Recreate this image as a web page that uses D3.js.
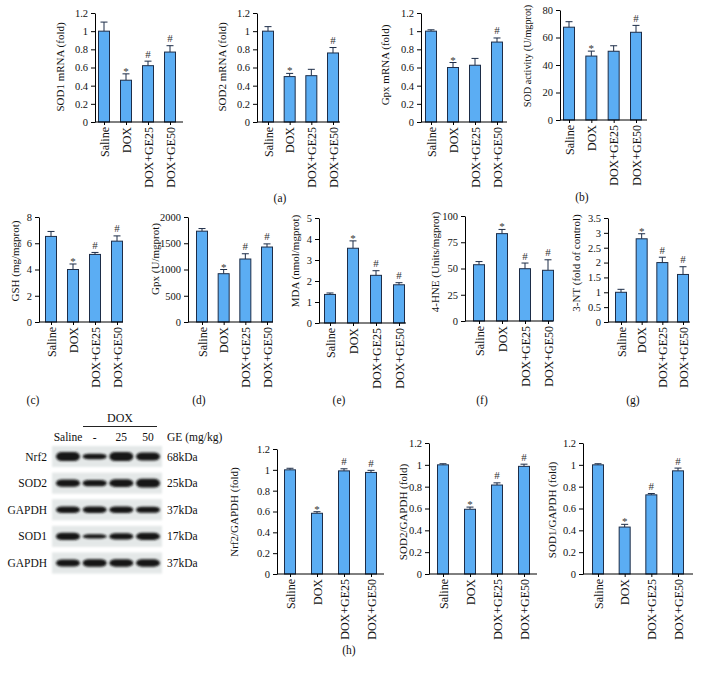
<!DOCTYPE html>
<html>
<head>
<meta charset="utf-8">
<script src="https://cdn.jsdelivr.net/npm/d3@7"></script>
<style>
body { margin: 0; background: #fff; }
svg { font-family: "Liberation Serif", "DejaVu Serif", serif; }
</style>
</head>
<body>
<div id="fig"></div>
<script>
var groups = ["Saline", "DOX", "DOX+GE25", "DOX+GE50"];

// (a) mRNA
var sod1Mrna = [1.0, 0.46, 0.62, 0.77];
var sod1MrnaErr = [0.1, 0.07, 0.05, 0.07];
var sod1MrnaSig = ["", "*", "#", "#"];
var sod2Mrna = [1.0, 0.50, 0.51, 0.76];
var sod2MrnaErr = [0.05, 0.035, 0.07, 0.06];
var sod2MrnaSig = ["", "*", "", "#"];
var gpxMrna = [1.0, 0.60, 0.625, 0.88];
var gpxMrnaErr = [0.015, 0.055, 0.075, 0.045];
var gpxMrnaSig = ["", "*", "", "#"];
// (b)
var sodActivity = [67.5, 46.5, 50, 63.8];
var sodActivityErr = [4, 3.6, 4, 5];
var sodActivitySig = ["", "*", "", "#"];
// (c)-(g)
var gsh = [6.52, 4.0, 5.15, 6.16];
var gshErr = [0.38, 0.42, 0.15, 0.4];
var gshSig = ["", "*", "#", "#"];
var gpx = [1730, 920, 1200, 1428];
var gpxErr = [50, 80, 100, 60];
var gpxSig = ["", "*", "#", "#"];
var mda = [1.36, 3.56, 2.27, 1.82];
var mdaErr = [0.07, 0.35, 0.22, 0.1];
var mdaSig = ["", "*", "#", "#"];
var hne = [53.6, 83.2, 49.8, 48.3];
var hneErr = [3, 4, 5.4, 10];
var hneSig = ["", "*", "#", "#"];
var nt3 = [1.0, 2.8, 2.0, 1.6];
var nt3Err = [0.1, 0.17, 0.18, 0.26];
var nt3Sig = ["", "*", "#", "#"];
// (h) western blot quantification
var nrf2Ratio = [1.0, 0.583, 0.99, 0.975];
var nrf2RatioErr = [0.015, 0.015, 0.02, 0.02];
var nrf2RatioSig = ["", "*", "#", "#"];
var sod2Ratio = [1.0, 0.593, 0.815, 0.986];
var sod2RatioErr = [0.01, 0.02, 0.02, 0.02];
var sod2RatioSig = ["", "*", "#", "#"];
var sod1Ratio = [1.0, 0.43, 0.725, 0.945];
var sod1RatioErr = [0.01, 0.025, 0.012, 0.025];
var sod1RatioSig = ["", "*", "#", "#"];

var fold12Ticks = [0, 0.2, 0.4, 0.6, 0.8, 1, 1.2];

// blot
var lanes = ["Saline", "-", "25", "50"];
var blotRows = ["Nrf2", "SOD2", "GAPDH", "SOD1", "GAPDH"];
var blotKda = ["68kDa", "25kDa", "37kDa", "17kDa", "37kDa"];
var nrf2Bands = [1.0, 0.6, 1.0, 0.9];
var sod2Bands = [0.8, 0.72, 0.85, 0.95];
var gapdh1Bands = [0.72, 0.72, 0.72, 0.68];
var sod1Bands = [0.8, 0.45, 0.68, 0.78];
var gapdh2Bands = [0.8, 0.85, 0.82, 0.82];
var blotBands = [nrf2Bands, sod2Bands, gapdh1Bands, sod1Bands, gapdh2Bands];

var barFill = "#5badf3";
var barStroke = "#1d2d48";
var barW = 11;

var svg = d3.select("#fig").append("svg")
    .attr("width", 701)
    .attr("height", 673);

var panels = [
  { v: sod1Mrna, e: sod1MrnaErr, s: sod1MrnaSig, max: 1.2, ticks: fold12Ticks, label: "SOD1 mRNA (fold)",
    ax: 95, axEnd: 183, c0: 104, c3: 170, y0: 122, y1: 13, lx: 60, ly: 67 },
  { v: sod2Mrna, e: sod2MrnaErr, s: sod2MrnaSig, max: 1.2, ticks: fold12Ticks, label: "SOD2 mRNA (fold)",
    ax: 257, axEnd: 340, c0: 268, c3: 333, y0: 122, y1: 13, lx: 222, ly: 67 },
  { v: gpxMrna, e: gpxMrnaErr, s: gpxMrnaSig, max: 1.2, ticks: fold12Ticks, label: "Gpx mRNA (fold)",
    ax: 421, axEnd: 507, c0: 431, c3: 497, y0: 122, y1: 13, lx: 385, ly: 65 },
  { v: sodActivity, e: sodActivityErr, s: sodActivitySig, max: 80, ticks: [0, 20, 40, 60, 80], label: "SOD activity (U/mgprot)",
    ax: 560, axEnd: 647, c0: 569, c3: 636, y0: 120, y1: 10, lx: 527, ly: 56, fs: 10.2 },
  { v: gsh, e: gshErr, s: gshSig, max: 8, ticks: [0, 2, 4, 6, 8], label: "GSH (mg/mgprot)",
    ax: 39, axEnd: 123, c0: 51, c3: 117, y0: 322, y1: 217, lx: 15, ly: 261 },
  { v: gpx, e: gpxErr, s: gpxSig, max: 2000, ticks: [0, 500, 1000, 1500, 2000], label: "Gpx (U/mgprot)",
    ax: 188, axEnd: 273, c0: 202, c3: 267, y0: 322, y1: 217, lx: 155, ly: 259 },
  { v: mda, e: mdaErr, s: mdaSig, max: 5, ticks: [0, 1, 2, 3, 4, 5], label: "MDA (nmol/mgprot)",
    ax: 319, axEnd: 406, c0: 330, c3: 399, y0: 323, y1: 218, lx: 295, ly: 261 },
  { v: hne, e: hneErr, s: hneSig, max: 100, ticks: [0, 25, 50, 75, 100], label: "4-HNE (Units/mgprot)",
    ax: 465, axEnd: 553, c0: 479, c3: 548, y0: 321, y1: 216, lx: 435, ly: 262 },
  { v: nt3, e: nt3Err, s: nt3Sig, max: 3.5, ticks: [0, 0.5, 1, 1.5, 2, 2.5, 3, 3.5], label: "3-NT (fold of control)",
    ax: 608, axEnd: 690, c0: 621, c3: 683, y0: 322, y1: 218, lx: 576, ly: 263 },
  { v: nrf2Ratio, e: nrf2RatioErr, s: nrf2RatioSig, max: 1.2, ticks: fold12Ticks, label: "Nrf2/GAPDH (fold)",
    ax: 277, axEnd: 384, c0: 290, c3: 371, y0: 574, y1: 449, lx: 234, ly: 512 },
  { v: sod2Ratio, e: sod2RatioErr, s: sod2RatioSig, max: 1.2, ticks: fold12Ticks, label: "SOD2/GAPDH (fold)",
    ax: 429, axEnd: 537, c0: 443, c3: 524, y0: 574, y1: 443, lx: 403, ly: 512 },
  { v: sod1Ratio, e: sod1RatioErr, s: sod1RatioSig, max: 1.2, ticks: fold12Ticks, label: "SOD1/GAPDH (fold)",
    ax: 583, axEnd: 693, c0: 598, c3: 678, y0: 574, y1: 443, lx: 552, ly: 510 }
];

var captions = [
  { t: "(a)", x: 280, y: 198 }, { t: "(b)", x: 582, y: 197 },
  { t: "(c)", x: 33, y: 400 }, { t: "(d)", x: 199, y: 400 }, { t: "(e)", x: 339, y: 400 },
  { t: "(f)", x: 482, y: 400 }, { t: "(g)", x: 633, y: 400 }, { t: "(h)", x: 349, y: 650 }
];

function fmt(d) { return String(+d.toFixed(2)); }

function drawPanel(p) {
  var y = d3.scaleLinear().domain([0, p.max]).range([p.y0, p.y1]);
  var x = d3.scalePoint().domain(groups).range([p.c0, p.c3]);
  var g = svg.append("g");

  // error bars (behind bars)
  var eb = g.selectAll("g.err").data(p.v).join("g").attr("class", "err");
  eb.append("line")
      .attr("x1", function(d, i) { return x(groups[i]); })
      .attr("x2", function(d, i) { return x(groups[i]); })
      .attr("y1", function(d) { return y(d); })
      .attr("y2", function(d, i) { return y(d + p.e[i]); })
      .attr("stroke", barStroke).attr("stroke-width", 1);
  eb.append("line")
      .attr("x1", function(d, i) { return x(groups[i]) - 3.5; })
      .attr("x2", function(d, i) { return x(groups[i]) + 3.5; })
      .attr("y1", function(d, i) { return y(d + p.e[i]); })
      .attr("y2", function(d, i) { return y(d + p.e[i]); })
      .attr("stroke", barStroke).attr("stroke-width", 1);

  g.selectAll("rect.bar").data(p.v).join("rect")
      .attr("class", "bar")
      .attr("x", function(d, i) { return x(groups[i]) - barW / 2; })
      .attr("y", function(d) { return y(d); })
      .attr("width", barW)
      .attr("height", function(d) { return y(0) - y(d); })
      .attr("fill", barFill)
      .attr("stroke", barStroke)
      .attr("stroke-width", 1);

  // significance marks
  g.selectAll("text.sig").data(p.s).join("text")
      .attr("class", "sig")
      .attr("x", function(d, i) { return x(groups[i]); })
      .attr("y", function(d, i) {
        var top = y(p.v[i] + p.e[i]);
        return d === "*" ? top + 1 : top - 3.5;
      })
      .attr("text-anchor", "middle")
      .attr("font-size", 11)
      .attr("fill", "#333")
      .text(function(d) { return d; });

  // y axis
  var yAxis = g.append("g")
      .attr("transform", "translate(" + p.ax + ",0)")
      .call(d3.axisLeft(y).tickValues(p.ticks).tickSize(4).tickSizeOuter(0).tickFormat(fmt));
  yAxis.attr("font-family", null);
  yAxis.selectAll("text").attr("font-size", 10.5).attr("fill", "#111");

  // x axis
  var xAxis = g.append("g")
      .attr("transform", "translate(0," + p.y0 + ")")
      .call(d3.axisBottom(x).tickSize(3).tickSizeOuter(0));
  xAxis.attr("font-family", null);
  xAxis.select(".domain").remove();
  xAxis.append("line")
      .attr("x1", p.ax).attr("x2", p.axEnd)
      .attr("stroke", "#000");
  xAxis.selectAll(".tick text")
      .attr("transform", "rotate(-90)")
      .attr("text-anchor", "end")
      .attr("x", -5).attr("y", 0).attr("dy", "0.35em")
      .attr("font-size", 12)
      .attr("fill", "#111");

  // y label
  g.append("text")
      .attr("transform", "translate(" + p.lx + "," + p.ly + ") rotate(-90)")
      .attr("text-anchor", "middle")
      .attr("dy", "0.35em")
      .attr("font-size", p.fs || 11)
      .attr("fill", "#111")
      .text(p.label);
}

panels.forEach(drawPanel);

svg.selectAll("text.cap").data(captions).join("text")
    .attr("class", "cap")
    .attr("x", function(d) { return d.x; })
    .attr("y", function(d) { return d.y; })
    .attr("dy", "0.35em")
    .attr("text-anchor", "middle")
    .attr("font-size", 11.5)
    .attr("fill", "#111")
    .text(function(d) { return d.t; });

// ---- western blot ----
var defs = svg.append("defs");
defs.append("filter").attr("id", "bandBlur").attr("x", "-30%").attr("y", "-80%")
    .attr("width", "160%").attr("height", "260%")
    .append("feGaussianBlur").attr("stdDeviation", 1.0);
defs.append("filter").attr("id", "boxBlur").attr("x", "-10%").attr("y", "-30%")
    .attr("width", "120%").attr("height", "160%")
    .append("feGaussianBlur").attr("stdDeviation", 1.2);

var laneX = d3.scalePoint().domain(lanes).range([68, 148]);
var rowY = d3.scalePoint().domain(d3.range(blotRows.length)).range([456.5, 563]);
var blot = svg.append("g");

blot.append("text").attr("x", 120).attr("y", 422).attr("text-anchor", "middle")
    .attr("font-size", 12).attr("fill", "#111").text("DOX");
blot.append("line").attr("x1", 83).attr("x2", 157).attr("y1", 426.5).attr("y2", 426.5)
    .attr("stroke", "#222").attr("stroke-width", 1);

blot.selectAll("text.lane").data(lanes).join("text")
    .attr("class", "lane")
    .attr("x", function(d) { return laneX(d); })
    .attr("y", 441)
    .attr("text-anchor", "middle")
    .attr("font-size", 11.5).attr("fill", "#111")
    .text(function(d) { return d; });
blot.append("text").attr("x", 167).attr("y", 441)
    .attr("font-size", 11.5).attr("fill", "#111").text("GE (mg/kg)");

var rows = blot.selectAll("g.row").data(blotRows).join("g").attr("class", "row")
    .attr("transform", function(d, i) { return "translate(0," + rowY(i) + ")"; });

rows.append("rect")
    .attr("x", 52).attr("y", -10.5).attr("width", 110).attr("height", 21)
    .attr("fill", "#e4e8e8").attr("filter", "url(#boxBlur)");

rows.append("text")
    .attr("x", 47).attr("dy", "0.35em").attr("text-anchor", "end")
    .attr("font-size", 11.5).attr("fill", "#111")
    .text(function(d) { return d; });

rows.append("text")
    .attr("x", 167).attr("dy", "0.35em")
    .attr("font-size", 11.5).attr("fill", "#111")
    .text(function(d, i) { return blotKda[i]; });

rows.each(function(d, i) {
  d3.select(this).selectAll("rect.band").data(blotBands[i]).join("rect")
      .attr("class", "band")
      .attr("x", function(b, j) { return laneX(lanes[j]) - 12; })
      .attr("y", function(b) { return -4.5 * b; })
      .attr("width", 24)
      .attr("height", function(b) { return 9 * b; })
      .attr("rx", 6)
      .attr("ry", function(b) { return 4.5 * b; })
      .attr("fill", "#141414")
      .attr("filter", "url(#bandBlur)");
});
</script>
</body>
</html>
